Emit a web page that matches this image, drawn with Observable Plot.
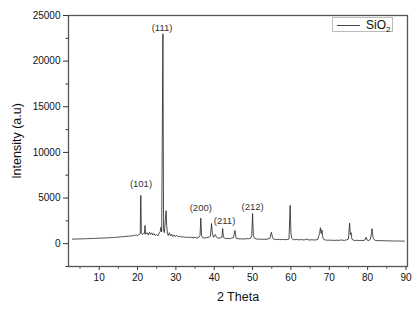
<!DOCTYPE html>
<html>
<head>
<meta charset="utf-8">
<script src="https://cdn.jsdelivr.net/npm/d3@7"></script>
<script src="https://cdn.jsdelivr.net/npm/@observablehq/plot@0.6"></script>
<style>
  html, body { margin: 0; padding: 0; background: #fff; }
  #wrap { position: relative; width: 418px; height: 312px; font-family: "Liberation Sans", Arial, sans-serif; }
  #legend { position: absolute; left: 332px; top: 17px; width: 61px; height: 15px; border: 1px solid #bbb; background: #fff; box-sizing: border-box; }
  #legend .ln { position: absolute; left: 4px; top: 7px; width: 23px; height: 0; border-top: 1px solid #444; }
  #legend .tx { position: absolute; left: 33px; top: 0px; font-size: 12px; line-height: 14px; color: #111; }
</style>
</head>
<body>
<div id="wrap"></div>
<script>
const twoTheta = [3.0,3.5,4.0,4.5,5.0,5.5,6.0,6.5,7.0,7.5,8.0,8.5,9.0,9.5,10.0,10.5,11.0,11.5,12.0,12.5,13.0,13.5,14.0,14.5,15.0,15.5,16.0,16.5,17.0,17.5,18.0,18.5,19.0,19.5,20.0,20.5,20.7,20.85,21.0,21.3,21.6,21.8,21.95,22.1,22.5,22.8,23.1,23.4,23.7,24.0,24.3,24.6,25.0,25.3,25.6,25.9,26.1,26.3,26.62,26.8,27.0,27.25,27.45,27.6,27.8,28.0,28.3,28.6,28.9,29.2,29.5,29.8,30.2,30.6,31.0,31.5,32.0,32.5,33.0,33.5,34.0,34.5,35.0,35.5,36.0,36.3,36.5,36.7,37.0,37.5,38.0,38.5,39.0,39.3,39.5,39.8,40.3,40.6,41.0,41.5,42.0,42.2,42.4,43.0,43.5,44.0,44.5,45.0,45.4,45.7,46.2,46.8,47.5,48.0,48.5,49.0,49.5,49.8,50.0,50.2,50.5,51.0,51.5,52.0,52.5,53.0,53.5,54.0,54.5,54.9,55.2,55.5,56.0,56.5,57.0,57.5,58.0,58.5,59.0,59.5,59.8,60.0,60.2,60.6,61.0,61.5,62.0,62.5,63.0,63.5,64.0,64.5,65.0,65.5,66.0,66.5,67.0,67.5,67.7,67.9,68.1,68.3,68.6,69.0,69.5,70.0,70.5,71.0,71.5,72.0,72.5,73.0,73.5,74.0,74.5,75.0,75.3,75.5,75.7,75.9,76.3,76.8,77.3,77.8,78.3,78.8,79.3,79.6,79.9,80.3,80.7,81.0,81.15,81.4,81.7,82.0,82.5,83.0,83.5,84.0,84.5,85.0,85.5,86.0,86.5,87.0,87.5,88.0,88.5,89.0,89.6];
const intensity = [480,520,500,530,510,540,520,560,540,570,560,590,570,600,590,620,610,640,620,660,650,690,670,720,700,760,730,800,780,840,810,880,860,950,900,1050,1100,5300,1150,1000,1150,1100,2000,1050,1200,950,1250,1000,1200,950,1100,900,1000,850,1150,1300,1800,1300,23000,1500,1200,2600,3600,2000,1100,900,1200,850,1050,800,950,780,900,750,820,720,760,680,740,660,700,640,690,620,700,900,2800,900,650,620,660,700,800,2200,1200,700,1000,700,600,620,700,1650,700,560,580,550,600,650,1450,600,540,520,530,510,560,540,600,900,3300,900,600,520,490,500,480,500,470,520,600,1250,700,500,460,450,480,440,470,430,460,500,4200,1200,600,450,430,470,420,440,430,410,500,420,410,430,400,420,450,1200,1750,1100,1500,700,450,400,380,390,370,380,360,380,360,400,380,360,420,500,2250,1000,1200,500,380,350,370,340,360,340,400,700,380,350,450,1100,1650,700,450,360,330,340,320,330,310,320,300,310,300,290,300,290,280,290,280];

const peakLabels = ["(101)", "(111)", "(200)", "(211)", "(212)"];
const peakLabelX = [20.9, 26.4, 36.5, 42.7, 50.0];
const peakLabelY = [6500, 23650, 3900, 2480, 4000];

const xMajorTicks = [10, 20, 30, 40, 50, 60, 70, 80, 90];
const xMinorTicks = [5, 15, 25, 35, 45, 55, 65, 75, 85];
const yMajorTicks = [0, 5000, 10000, 15000, 20000, 25000];
const yMinorTicks = [-2500, 2500, 7500, 12500, 17500, 22500];

const seriesName = "SiO";

const pattern = twoTheta.map((x, i) => ({x, y: intensity[i]}));
const labels = peakLabels.map((t, i) => ({t, x: peakLabelX[i], y: peakLabelY[i]}));

const chart = Plot.plot({
  width: 418,
  height: 312,
  marginLeft: 68,
  marginRight: 11,
  marginTop: 15,
  marginBottom: 46,
  style: {fontFamily: "'Liberation Sans', Arial, sans-serif", fontSize: "10px", color: "#111", background: "#fff"},
  x: {domain: [2, 90.4]},
  y: {domain: [-2500, 25000]},
  marks: [
    Plot.axisX({ticks: xMinorTicks, tickSize: 2.5, tickFormat: () => "", label: null, stroke: "#333"}),
    Plot.axisX({ticks: xMajorTicks, tickSize: 4, tickPadding: 3, tickFormat: d => String(d), label: "2 Theta", labelAnchor: "center", labelArrow: "none", labelOffset: 34, stroke: "#333", fontSize: 10}),
    Plot.axisY({ticks: yMinorTicks, tickSize: 2.5, tickFormat: () => "", label: null, stroke: "#333"}),
    Plot.axisY({ticks: yMajorTicks, tickSize: 5, tickPadding: 3, tickFormat: d => String(d), label: "Intensity (a.u)", labelAnchor: "center", labelArrow: "none", labelOffset: 56, stroke: "#333", fontSize: 10}),
    Plot.frame({stroke: "#555", strokeWidth: 1.3}),
    Plot.line(pattern, {x: "x", y: "y", stroke: "#222", strokeWidth: 0.8}),
    Plot.text(labels, {x: "x", y: "y", text: "t", fontSize: 9.5, fill: "#333"})
  ]
});

// axis label font size
chart.querySelectorAll("g[aria-label='x-axis label'] text, g[aria-label='y-axis label'] text").forEach(t => t.setAttribute("font-size", "12.5"));

const wrap = document.getElementById("wrap");
wrap.appendChild(chart);
const legend = document.createElement("div");
legend.id = "legend";
legend.innerHTML = `<div class="ln"></div><div class="tx">${seriesName}<sub style="font-size:8px">2</sub></div>`;
wrap.appendChild(legend);
</script>
</body>
</html>
